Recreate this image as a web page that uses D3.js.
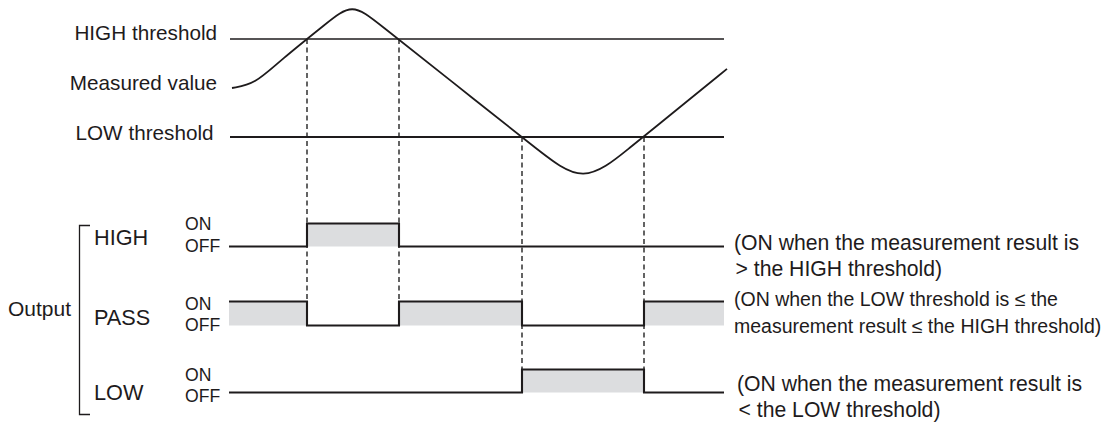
<!DOCTYPE html>
<html>
<head>
<meta charset="utf-8">
<script src="https://cdn.jsdelivr.net/npm/d3@7"></script>
<style>
  html, body { margin: 0; padding: 0; background: #fff; }
  svg { display: block; font-family: "Liberation Sans", Arial, Helvetica, sans-serif; }
  text { fill: #1e1b1c; }
</style>
</head>
<body>
<svg id="chart" width="1107" height="434"></svg>
<script>
// ---------------- data ----------------
// time axis (arbitrary units, 0..495)
const timeDomain = [0, 495];
// threshold values (measurement units)
const highThreshold = 7;
const lowThreshold = 3;
const measuredTime  = [3, 26, 51, 98.7, 123.2, 147.7, 221, 309.6, 354.25, 398.9, 451, 498];
const measuredValue = [5.0, 5.16, 6.12, 7.68, 8.48, 7.69, 5.32, 2.46, 1.02, 2.50, 4.22, 5.78];
// switching times of the outputs (where the measured value crosses a threshold)
const switchTimes = [78, 170, 293, 415];
// output states for each interval: [start..s1], [s1..s2], [s2..s3], [s3..s4], [s4..end]
const outputNames = ["HIGH", "PASS", "LOW"];
const highState = [0, 1, 0, 0, 0];
const passState = [1, 0, 1, 0, 1];
const lowState  = [0, 0, 0, 1, 0];
const thresholdLabels = ["HIGH threshold", "Measured value", "LOW threshold"];
const stateLabels = ["ON", "OFF"];
const groupLabel = "Output";
const notes = [
  ["(ON when the measurement result is", "> the HIGH threshold)"],
  ["(ON when the LOW threshold is \u2264 the", "measurement result \u2264 the HIGH threshold)"],
  ["(ON when the measurement result is", "< the LOW threshold)"]
];

// ---------------- scales ----------------
const svg = d3.select("#chart");
const ink = "#1e1b1c";
const x = d3.scaleLinear().domain(timeDomain).range([229, 724]);
const yM = d3.scaleLinear().domain([0, 10]).range([210.5, -34.5]);

// output rows: OFF level and ON level pixels
const rows = [
  { name: "HIGH", state: highState, off: 246.5, on: 223.5 },
  { name: "PASS", state: passState, off: 325.5, on: 301.5 },
  { name: "LOW",  state: lowState,  off: 392.5, on: 369.5 }
];
const bounds = [timeDomain[0], ...switchTimes, timeDomain[1]];

// ---------------- dashed guide lines ----------------
const guides = [
  { t: switchTimes[0], v: highThreshold, to: 301.5 },
  { t: switchTimes[1], v: highThreshold, to: 301.5 },
  { t: switchTimes[2], v: lowThreshold,  to: 369.5 },
  { t: switchTimes[3], v: lowThreshold,  to: 369.5 }
];
svg.append("g").selectAll("line").data(guides).join("line")
  .attr("x1", d => x(d.t)).attr("x2", d => x(d.t))
  .attr("y1", d => yM(d.v)).attr("y2", d => d.to)
  .attr("stroke", "#222").attr("stroke-width", 1.4)
  .attr("stroke-dasharray", "5,3.5");

// ---------------- threshold lines ----------------
svg.append("line")
  .attr("x1", x(1)).attr("x2", x(495)).attr("y1", yM(highThreshold)).attr("y2", yM(highThreshold))
  .attr("stroke", ink).attr("stroke-width", 1.3);
svg.append("line")
  .attr("x1", x(1)).attr("x2", x(495)).attr("y1", yM(lowThreshold)).attr("y2", yM(lowThreshold))
  .attr("stroke", ink).attr("stroke-width", 1.8);

// ---------------- measured value curve ----------------
const measured = measuredTime.map((t, i) => ({ t, v: measuredValue[i] }));
svg.append("path")
  .datum(measured)
  .attr("fill", "none").attr("stroke", ink).attr("stroke-width", 1.8)
  .attr("d", d3.line().x(d => x(d.t)).y(d => yM(d.v)).curve(d3.curveBasis));

// ---------------- output signals ----------------
rows.forEach(r => {
  const pts = [];
  r.state.forEach((s, i) => pts.push({ t: bounds[i], s }));
  pts.push({ t: bounds[bounds.length - 1], s: r.state[r.state.length - 1] });
  const yS = d3.scaleLinear().domain([0, 1]).range([r.off, r.on]);
  svg.append("path").datum(pts)
    .attr("fill", "#dcdddf")
    .attr("d", d3.area().x(d => x(d.t)).y0(yS(0)).y1(d => yS(d.s)).curve(d3.curveStepAfter));
  svg.append("path").datum(pts)
    .attr("fill", "none").attr("stroke", ink).attr("stroke-width", 2.1)
    .attr("d", d3.line().x(d => x(d.t)).y(d => yS(d.s)).curve(d3.curveStepAfter));
});

// ---------------- labels ----------------
const tl = [
  { text: thresholdLabels[0], x: 217, y: 39.5 },
  { text: thresholdLabels[1], x: 217, y: 89.5 },
  { text: thresholdLabels[2], x: 213.5, y: 139.5 }
];
svg.append("g").selectAll("text").data(tl).join("text")
  .attr("x", d => d.x).attr("y", d => d.y).attr("text-anchor", "end")
  .attr("font-size", 20.7).text(d => d.text);

// output names
const nameY = [244.5, 324.5, 399.5];
svg.append("g").selectAll("text").data(outputNames).join("text")
  .attr("x", 94).attr("y", (d, i) => nameY[i])
  .attr("font-size", 21.7).text(d => d);

// ON / OFF
const onY = [230, 309.5, 380.5];
const offY = [252, 331, 402];
rows.forEach((r, i) => {
  svg.append("text").attr("x", 185).attr("y", onY[i]).attr("font-size", 17.6).text(stateLabels[0]);
  svg.append("text").attr("x", 185).attr("y", offY[i]).attr("font-size", 17.6).text(stateLabels[1]);
});

// bracket + group label
svg.append("path")
  .attr("d", "M90,225.5 H79.5 V414.5 H90")
  .attr("fill", "none").attr("stroke", ink).attr("stroke-width", 1.3);
svg.append("text").attr("x", 8).attr("y", 315.5).attr("font-size", 21).text(groupLabel);

// notes
const noteLayout = [
  { x: 734, y: [249.5, 275.5], size: 21.2 },
  { x: 734, y: [305.5, 332.5], size: 19.5 },
  { x: 737, y: [390.5, 416.5], size: 21.2 }
];
notes.forEach((lines, i) => {
  const L = noteLayout[i];
  lines.forEach((s, j) => {
    svg.append("text").attr("x", j === 1 && i !== 1 ? L.x + 1.5 : L.x).attr("y", L.y[j])
      .attr("font-size", L.size).text(s);
  });
});
</script>
</body>
</html>
